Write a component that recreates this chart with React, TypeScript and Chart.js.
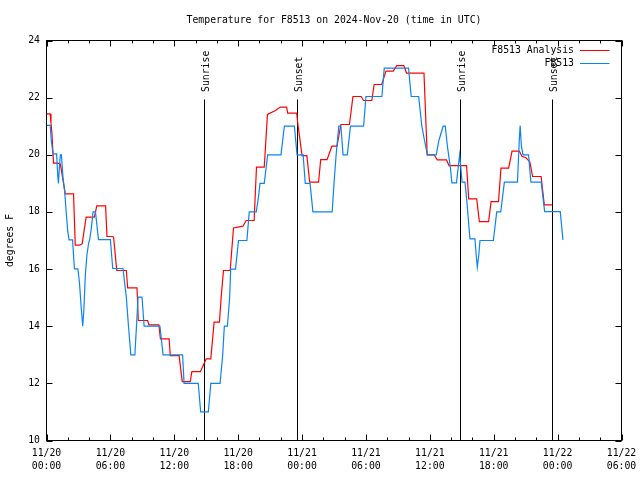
import React, { useEffect, useRef } from 'react';
import { Chart, registerables } from 'chart.js';

Chart.register(...registerables);

const TITLE = 'Temperature for F8513 on 2024-Nov-20 (time in UTC)';
const Y_LABEL = 'degrees F';
const SERIES_NAMES = ['F8513 Analysis', 'F8513'];
const SERIES_COLORS = ['#ff0000', '#0a84f0'];

const X_TICK_DATES = ['11/20', '11/20', '11/20', '11/20', '11/21', '11/21', '11/21', '11/21', '11/22', '11/22'];
const X_TICK_TIMES = ['00:00', '06:00', '12:00', '18:00', '00:00', '06:00', '12:00', '18:00', '00:00', '06:00'];

const EVENT_HOURS = [14.8, 23.55, 38.85, 47.5];
const EVENT_LABELS = ['Sunrise', 'Sunset', 'Sunrise', 'Sunset'];

// hours since 11/20 00:00 UTC
const ANALYSIS_HOURS = [
  0.0, 0.35, 0.42, 0.5, 0.66, 1.04, 1.3, 1.76, 2.54, 2.7, 3.1, 3.35, 3.72, 4.5, 4.72, 5.55, 5.68, 6.15, 6.3, 6.6,
  7.5, 7.62, 8.5, 8.62, 9.5, 9.62, 10.55, 10.7, 11.52, 11.62, 12.45, 12.75, 13.5, 13.65, 14.45, 14.85, 15.0, 15.43,
  15.74, 16.24, 16.4, 16.62, 17.25, 17.56, 18.45, 18.75, 19.5, 19.72, 20.45, 20.75, 21.5, 21.96, 22.55, 22.65, 23.5,
  23.6, 24.0, 24.45, 24.72, 25.55, 25.75, 26.35, 26.8, 27.28, 27.65, 28.45, 28.78, 29.55, 29.78, 30.55, 30.77, 31.48,
  31.88, 32.56, 32.89, 33.56, 33.81, 35.45, 35.75, 36.4, 36.7, 37.57, 37.8, 39.45, 39.65, 40.4, 40.65, 41.52, 41.75,
  42.45, 42.68, 43.4, 43.72, 44.4, 44.65, 45.05, 45.4, 45.65, 46.45, 46.75, 47.48,
];
const ANALYSIS_TEMPS = [
  21.43, 21.43, 21.1, 20.8, 19.71, 19.71, 19.68, 18.63, 18.63, 16.84, 16.84, 16.88, 17.82, 17.82, 18.21, 18.21, 17.14,
  17.14, 17.12, 15.95, 15.95, 15.34, 15.34, 14.2, 14.2, 14.05, 14.05, 13.56, 13.56, 12.97, 12.97, 12.06, 12.06, 12.41,
  12.41, 12.74, 12.86, 12.86, 14.14, 14.14, 15.0, 15.95, 15.95, 17.44, 17.5, 17.7, 17.7, 19.57, 19.57, 21.41, 21.55,
  21.67, 21.67, 21.46, 21.46, 21.1, 19.97, 19.97, 19.04, 19.04, 19.83, 19.83, 20.3, 20.3, 21.06, 21.06, 22.04, 22.04,
  21.9, 21.9, 22.46, 22.46, 22.93, 22.93, 23.12, 23.12, 22.86, 22.86, 20.0, 20.0, 19.82, 19.82, 19.62, 19.62, 18.46,
  18.46, 17.66, 17.66, 18.36, 18.36, 19.53, 19.53, 20.13, 20.13, 19.95, 19.89, 19.74, 19.24, 19.24, 18.25, 18.25,
];

const OBS_HOURS = [
  0.0, 0.35, 0.45, 0.62, 0.95, 1.05, 1.12, 1.2, 1.3, 1.4, 1.55, 1.7, 1.85, 2.0, 2.12, 2.45, 2.62, 2.95, 3.1, 3.25, 3.4,
  3.5, 3.65, 3.8, 3.95, 4.05, 4.2, 4.37, 4.6, 4.88, 6.0, 6.22, 7.18, 7.5, 7.7, 7.92, 8.3, 8.45, 8.6, 8.97, 9.17, 10.65,
  10.95, 12.78, 12.92, 14.25, 14.48, 15.2, 15.43, 16.3, 16.55, 16.7, 16.99, 17.2, 17.3, 17.75, 18.03, 18.82, 19.04,
  19.7, 19.9, 20.05, 20.45, 20.77, 22.02, 22.34, 23.28, 23.53, 24.1, 24.3, 24.75, 25.02, 26.83, 27.0, 27.2, 27.45,
  27.65, 27.85, 28.25, 28.55, 29.78, 30.0, 31.5, 31.72, 34.0, 34.25, 34.95, 35.25, 35.5, 35.77, 36.6, 36.85, 37.25,
  37.45, 37.65, 37.95, 38.07, 38.5, 38.8, 38.9, 39.03, 39.3, 39.47, 39.77, 40.24, 40.35, 40.46, 40.6, 40.71, 41.97,
  42.28, 42.66, 43.0, 44.23, 44.4, 44.48, 44.6, 44.75, 45.27, 45.49, 46.46, 46.78, 48.25, 48.5,
];
const OBS_TEMPS = [
  21.03, 21.03, 20.5, 20.03, 20.03, 19.3, 19.0, 19.5, 20.0, 20.0, 19.2, 18.75, 18.0, 17.3, 17.02, 17.02, 16.01, 16.01,
  15.5, 14.7, 14.0, 14.5, 15.8, 16.5, 16.9, 17.03, 17.4, 18.0, 18.0, 17.03, 17.03, 16.02, 16.02, 15.0, 14.0, 13.0,
  13.0, 14.0, 15.02, 15.02, 14.0, 14.0, 13.0, 13.0, 12.0, 12.0, 11.0, 11.0, 12.0, 12.0, 13.0, 14.0, 14.0, 15.0, 16.0,
  16.0, 17.0, 17.0, 18.0, 18.0, 18.5, 19.0, 19.0, 20.0, 20.0, 21.0, 21.0, 20.0, 20.0, 19.0, 19.0, 18.0, 18.0, 19.0,
  20.0, 21.0, 21.0, 20.0, 20.0, 21.0, 21.0, 22.04, 22.04, 23.03, 23.03, 22.04, 22.04, 21.0, 20.5, 20.0, 20.0, 20.5,
  21.0, 21.0, 20.3, 19.5, 19.02, 19.02, 20.0, 19.6, 19.04, 19.04, 18.4, 17.06, 17.06, 16.5, 16.07, 16.5, 17.0, 17.0,
  18.0, 18.0, 19.04, 19.04, 20.5, 21.02, 20.3, 20.0, 20.0, 19.04, 19.04, 18.01, 18.01, 17.02,
];

const FONT_FAMILY = "'DejaVu Sans Mono', 'Liberation Mono', monospace";
const FONT_SIZE = 9.8;

const decorPlugin = {
  id: 'gnuplotDecor',
  beforeDatasetsDraw(chart: any) {
    const { ctx, chartArea } = chart;
    const xs = chart.scales.x;
    const ys = chart.scales.y;
    ctx.save();
    ctx.strokeStyle = '#000';
    ctx.lineWidth = 1;
    ctx.strokeRect(chartArea.left, chartArea.top, chartArea.right - chartArea.left, chartArea.bottom - chartArea.top);
    ctx.beginPath();
    for (let h = xs.min; h <= xs.max; h += 2) {
      const px = Math.round(xs.getPixelForValue(h)) + 0.5;
      const len = h % 6 === 0 ? 6 : 3;
      ctx.moveTo(px, chartArea.bottom);
      ctx.lineTo(px, chartArea.bottom - len);
      ctx.moveTo(px, chartArea.top);
      ctx.lineTo(px, chartArea.top + len);
    }
    for (let v = ys.min; v <= ys.max; v += 2) {
      const py = Math.round(ys.getPixelForValue(v)) + 0.5;
      ctx.moveTo(chartArea.left, py);
      ctx.lineTo(chartArea.left + 6, py);
      ctx.moveTo(chartArea.right, py);
      ctx.lineTo(chartArea.right - 6, py);
    }
    ctx.stroke();
    ctx.font = `${FONT_SIZE}px ${FONT_FAMILY}`;
    ctx.fillStyle = '#000';
    EVENT_HOURS.forEach((h, i) => {
      const px = Math.round(xs.getPixelForValue(h)) + 0.5;
      ctx.beginPath();
      ctx.moveTo(px, chartArea.top + 59);
      ctx.lineTo(px, chartArea.bottom);
      ctx.stroke();
      ctx.save();
      ctx.translate(px, chartArea.top + 51.5);
      ctx.rotate(-Math.PI / 2);
      ctx.textAlign = 'left';
      ctx.textBaseline = 'middle';
      ctx.fillText(EVENT_LABELS[i], 0, 1.5);
      ctx.restore();
    });
    ctx.restore();
  },
  afterDraw(chart: any) {
    const { ctx, chartArea } = chart;
    ctx.save();
    ctx.font = `${FONT_SIZE}px ${FONT_FAMILY}`;
    ctx.textAlign = 'right';
    ctx.textBaseline = 'middle';
    ctx.lineWidth = 1;
    SERIES_NAMES.forEach((name, i) => {
      const y = chartArea.top + 9 + i * 13;
      ctx.fillStyle = '#000';
      ctx.fillText(name, chartArea.right - 47.5, y + 0.5);
      ctx.strokeStyle = SERIES_COLORS[i];
      ctx.beginPath();
      ctx.moveTo(chartArea.right - 41.5, Math.round(y) + 0.5);
      ctx.lineTo(chartArea.right - 12, Math.round(y) + 0.5);
      ctx.stroke();
    });
    ctx.restore();
  },
};

export default function App() {
  const ref = useRef<HTMLCanvasElement | null>(null);

  useEffect(() => {
    document.body.style.margin = '0';
    const canvas = ref.current;
    if (!canvas) return;
    const font = { family: FONT_FAMILY, size: FONT_SIZE, weight: 'normal' as const };
    const chart = new Chart(canvas, {
      type: 'line',
      data: {
        datasets: [
          {
            label: SERIES_NAMES[0],
            data: ANALYSIS_HOURS.map((h, i) => ({ x: h, y: ANALYSIS_TEMPS[i] })),
            borderColor: SERIES_COLORS[0],
            borderWidth: 1.2,
            pointRadius: 0,
            fill: false,
            tension: 0,
            order: 1,
          },
          {
            label: SERIES_NAMES[1],
            data: OBS_HOURS.map((h, i) => ({ x: h, y: OBS_TEMPS[i] })),
            borderColor: SERIES_COLORS[1],
            borderWidth: 1.2,
            pointRadius: 0,
            fill: false,
            tension: 0,
            order: 0,
          },
        ],
      },
      options: {
        animation: false,
        responsive: false,
        devicePixelRatio: 1,
        layout: { padding: { left: 0, right: 18.5, top: 0, bottom: 0 } },
        plugins: {
          legend: { display: false },
          tooltip: { enabled: false },
          title: { display: false },
        },
        scales: {
          x: {
            type: 'linear',
            position: 'bottom',
            min: 0,
            max: 54,
            ticks: {
              stepSize: 6,
              autoSkip: false,
              maxRotation: 0,
              color: '#000',
              padding: 6,
              font: { ...font, lineHeight: 1.33 },
              callback: (v: any) => {
                const i = Math.round(Number(v) / 6);
                return [X_TICK_DATES[i], X_TICK_TIMES[i]];
              },
            },
            grid: { display: false, drawTicks: false },
            border: { display: false },
            afterFit: (s: any) => {
              s.height = 39.5;
              s.paddingLeft = 0;
              s.paddingRight = 0;
            },
          },
          x2: {
            type: 'linear',
            position: 'top',
            display: true,
            min: 0,
            max: 54,
            ticks: { display: false },
            grid: { display: false, drawTicks: false },
            border: { display: false },
            title: {
              display: true,
              text: TITLE,
              color: '#000',
              font: { ...font, lineHeight: 1.2 },
              padding: { top: 14.5, bottom: 0 },
            },
            afterFit: (s: any) => {
              s.height = 40.5;
              s.paddingLeft = 0;
              s.paddingRight = 0;
            },
          },
          y: {
            type: 'linear',
            position: 'left',
            min: 10,
            max: 24,
            ticks: { stepSize: 2, color: '#000', padding: 6.5, font },
            grid: { display: false, drawTicks: false },
            border: { display: false },
            title: {
              display: true,
              text: Y_LABEL,
              color: '#000',
              font: { ...font, lineHeight: 1.2 },
              padding: { top: 5, bottom: 0 },
            },
            afterFit: (s: any) => {
              s.width = 46.5;
            },
          },
        },
      },
      plugins: [decorPlugin],
    });
    return () => chart.destroy();
  }, []);

  return <canvas ref={ref} width={640} height={480} style={{ display: 'block' }} />;
}
